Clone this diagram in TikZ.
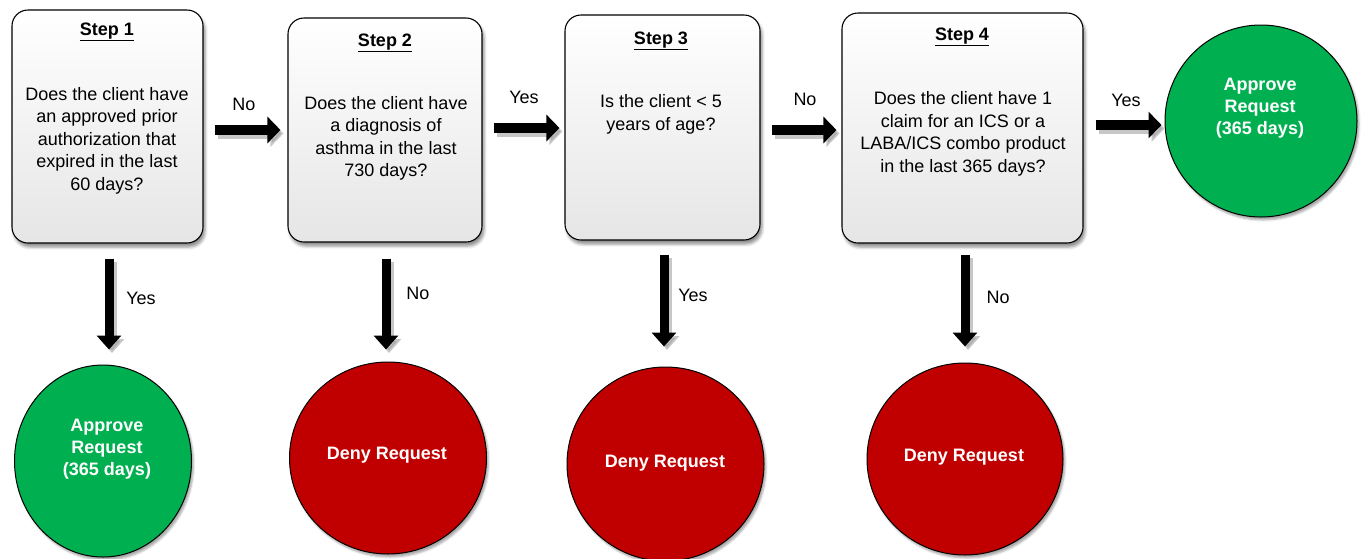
\documentclass[tikz,border=0pt]{standalone}
\usepackage{fontspec}
\setmainfont{Liberation Sans}
\usetikzlibrary{shapes.geometric,arrows.meta,shadows.blur}
\definecolor{okgreen}{HTML}{00B050}
\definecolor{nored}{HTML}{C00000}
\begin{document}
\begin{tikzpicture}[x=1pt,y=-1pt,
  every node/.style={font=\fontsize{18}{22.5}\selectfont, inner sep=0pt},
  box/.style={draw=black, line width=1.1pt, rounded corners=16pt, top color=white, bottom color=black!10,
    blur shadow={shadow xshift=2pt, shadow yshift=-4pt, shadow blur radius=3pt, shadow opacity=45}},
  okcirc/.style={ellipse, draw=black, line width=1pt, fill=okgreen,
    blur shadow={shadow xshift=2pt, shadow yshift=-3pt, shadow blur radius=2pt, shadow opacity=35}},
  nocirc/.style={ellipse, draw=black, line width=1pt, fill=nored,
    blur shadow={shadow xshift=2pt, shadow yshift=-3pt, shadow blur radius=2pt, shadow opacity=35}},
  ctext/.style={align=center, text=white, font=\fontsize{18}{22}\selectfont\bfseries},
  qtext/.style={align=center},
  ttext/.style={font=\fontsize{18}{22.5}\selectfont\bfseries},
  harrow/.style={line width=10pt, -{Triangle[width=26pt,length=13pt]}},
  varrow/.style={line width=9pt, -{Triangle[width=24pt,length=14pt]}},
  ashadow/.style={draw=black!40, opacity=0.55, transform canvas={xshift=3pt,yshift=-3.5pt}}
]
\useasboundingbox (0,0) rectangle (1366,558);

% step boxes
\node[box, minimum width=191pt, minimum height=233pt] (s1) at (107.5,126.5) {};
\node[box, minimum width=194pt, minimum height=224pt] (s2) at (385,130) {};
\node[box, minimum width=195pt, minimum height=225pt] (s3) at (662.5,127.5) {};
\node[box, minimum width=241pt, minimum height=230pt] (s4) at (962.5,128) {};

\node[ttext] (t1) at (107,32) {\underline{Step 1}};
\node[ttext] (t2) at (385,43) {\underline{Step 2}};
\node[ttext] (t3) at (661,41) {\underline{Step 3}};
\node[ttext] (t4) at (962,37) {\underline{Step 4}};

\node[qtext] (q1) at (107,140.5) {Does the client have\\an approved prior\\authorization that\\expired in the last\\60 days?};
\node[qtext] (q2) at (386,138.5) {Does the client have\\a diagnosis of\\asthma in the last\\730 days?};
\node[qtext] (q3) at (661,114.5) {Is the client < 5\\years of age?};
\node[qtext] (q4) at (963,134) {Does the client have 1\\claim for an ICS or a\\LABA/ICS combo product\\in the last 365 days?};

% outcome circles
\node[okcirc, minimum width=177pt, minimum height=192pt] (c1) at (103,461) {};
\node[nocirc, minimum width=197pt, minimum height=192pt] (c2) at (388,458) {};
\node[nocirc, minimum width=197pt, minimum height=194pt] (c3) at (665.5,464) {};
\node[nocirc, minimum width=196pt, minimum height=192pt] (c4) at (965,459) {};
\node[okcirc, minimum width=192pt, minimum height=192pt] (c5) at (1261,121) {};

\node[ctext] (o1) at (107,449) {Approve\\Request\\(365 days)};
\node[ctext] (o2) at (387,455) {Deny Request};
\node[ctext] (o3) at (665,463) {Deny Request};
\node[ctext] (o4) at (964,457) {Deny Request};
\node[ctext] (o5) at (1260,108) {Approve\\Request\\(365 days)};

% horizontal arrows (shadow, then arrow)
\foreach \st in {ashadow, black} {
\draw[harrow, \st, shorten <=11pt, shorten >=7pt] ([yshift=-3.5pt]s1.east) -- ([yshift=-3.5pt]s1.east -| s2.west);
\draw[harrow, \st, shorten <=11pt, shorten >=5pt] ([yshift=2pt]s2.east) -- ([yshift=2pt]s2.east -| s3.west);
\draw[harrow, \st, shorten <=11pt, shorten >=5pt] ([yshift=-2.5pt]s3.east) -- ([yshift=-2.5pt]s3.east -| s4.west);
\draw[harrow, \st, shorten <=12pt, shorten >=3pt] ([yshift=3pt]s4.east) -- ([yshift=3pt]s4.east -| c5.west);
% vertical arrows
\draw[varrow, \st, shorten <=15pt, shorten >=15pt] ([xshift=1.5pt]s1.south) -- ([xshift=1.5pt]s1.south |- c1.north);
\draw[varrow, \st, shorten <=16pt, shorten >=12pt] ([xshift=1pt]s2.south) -- ([xshift=1pt]s2.south |- c2.north);
\draw[varrow, \st, shorten <=14pt, shorten >=20pt] ([xshift=1.5pt]s3.south) -- ([xshift=1.5pt]s3.south |- c3.north);
\draw[varrow, \st, shorten <=11pt, shorten >=16pt] ([xshift=2.5pt]s4.south) -- ([xshift=2.5pt]s4.south |- c4.north);
}

% arrow labels
\node (l1) at (244,104) {No};
\node (l2) at (524,97) {Yes};
\node (l3) at (805,99) {No};
\node (l4) at (1126,100) {Yes};
\node (l5) at (141,298) {Yes};
\node (l6) at (418,293) {No};
\node (l7) at (693,295) {Yes};
\node (l8) at (998,297) {No};
\end{tikzpicture}
\end{document}
